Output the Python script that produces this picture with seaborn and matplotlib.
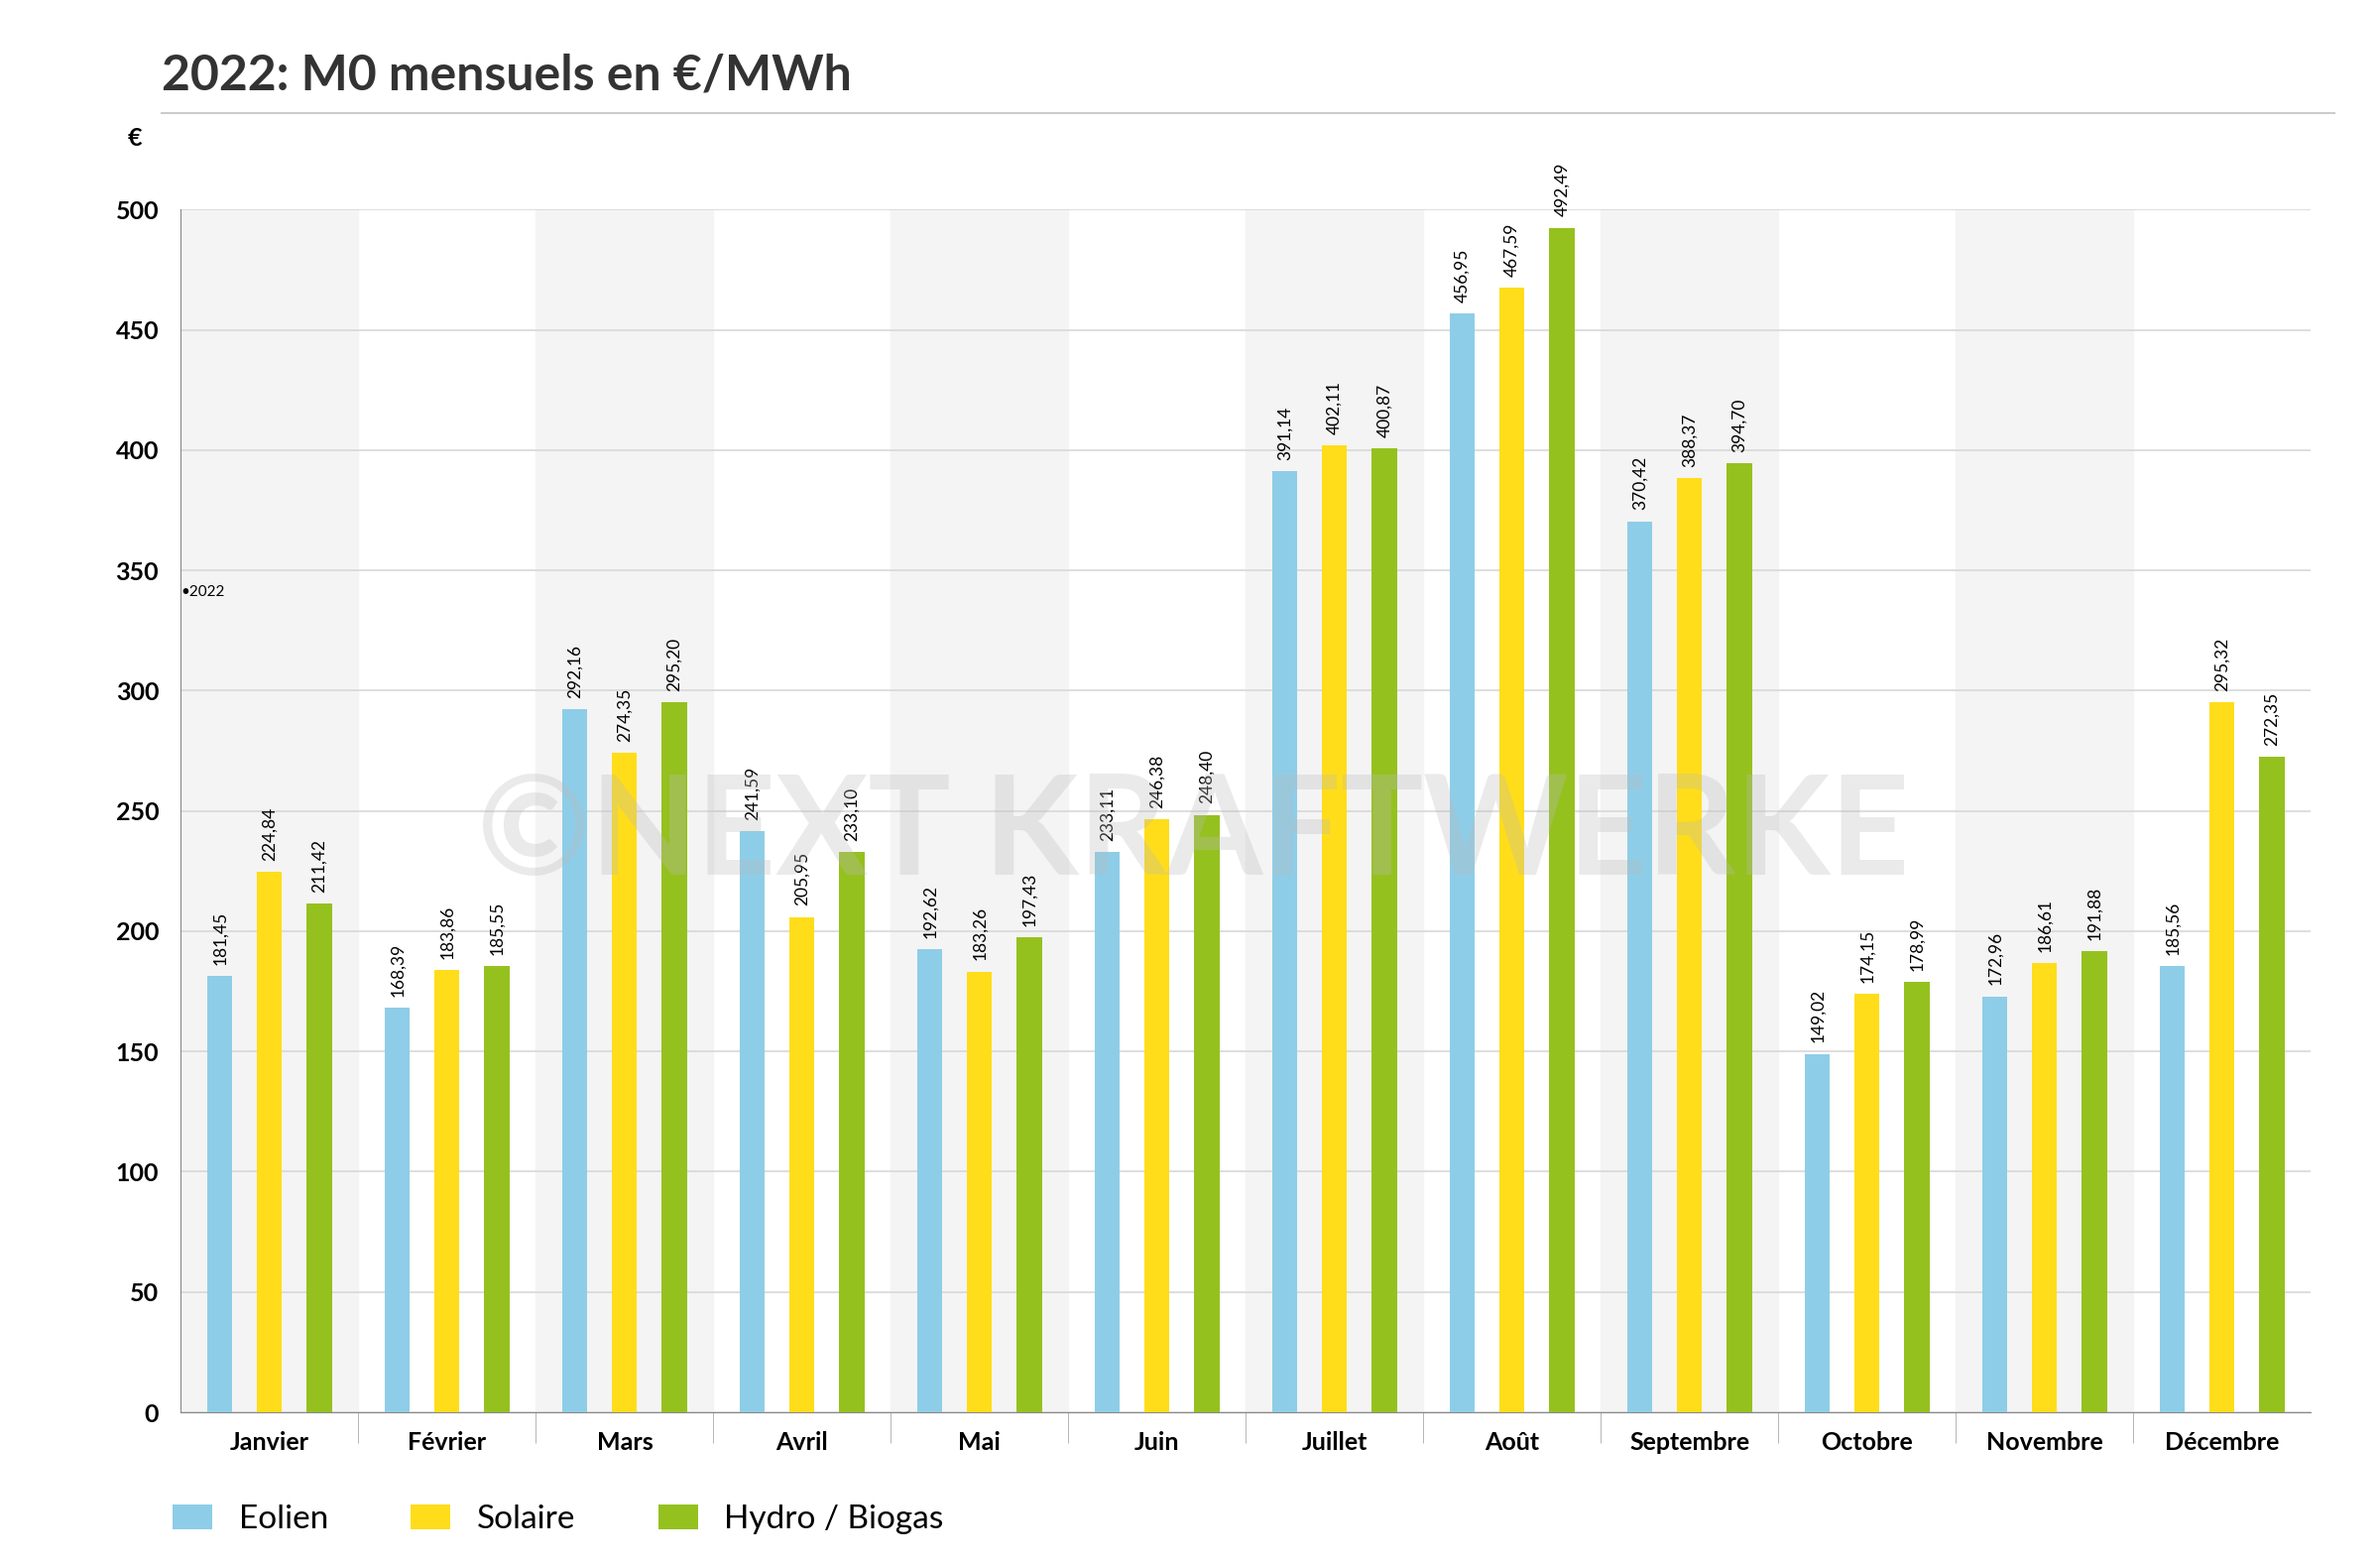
import matplotlib
matplotlib.use("Agg")
import matplotlib.pyplot as plt
import seaborn as sns
import pandas as pd
import numpy as np

months = ["Janvier","Février","Mars","Avril","Mai","Juin","Juillet","Août","Septembre","Octobre","Novembre","Décembre"]
eolien = [181.45,168.39,292.16,241.59,192.62,233.11,391.14,456.95,370.42,149.02,172.96,185.56]
solaire = [224.84,183.86,274.35,205.95,183.26,246.38,402.11,467.59,388.37,174.15,186.61,295.32]
hydro = [211.42,185.55,295.20,233.10,197.43,248.40,400.87,492.49,394.70,178.99,191.88,272.35]
series = ["Eolien","Solaire","Hydro / Biogas"]
colors = ["#8ECDE8","#FFDD1A","#95C11F"]

df = pd.DataFrame({
    "Mois": months*3,
    "Type": sum([[s]*12 for s in series], []),
    "Valeur": eolien+solaire+hydro,
})

plt.rcParams["font.family"] = "Lato"
fig = plt.figure(figsize=(24,15.77), dpi=100)
ax = fig.add_axes([0.076,0.097,0.895,0.769])

for i in range(0,12,2):
    ax.axvspan(i-0.5,i+0.5,color="#F4F4F4",zorder=0)

sns.barplot(data=df,x="Mois",y="Valeur",hue="Type",palette=colors,width=0.84,gap=0.5,ax=ax,zorder=3,legend=True,saturation=1)
for c in ax.containers:
    labs = [f"{v:.2f}".replace(".",",") for v in c.datavalues]
    ax.bar_label(c,labels=labs,rotation=90,padding=8,fontsize=12.5,clip_on=False)

ax.set_xlim(-0.5,11.5)
ax.set_ylim(0,500)
ax.set_yticks(range(0,501,50))
ax.yaxis.grid(True,color="#D8D8D8",lw=1.2,zorder=1)
ax.set_axisbelow(True)
for s in ["top","right"]:
    ax.spines[s].set_visible(False)
ax.spines["left"].set_color("#888888")
ax.spines["bottom"].set_color("#888888")
ax.tick_params(axis="y",length=0,labelsize=18,pad=16)
ax.tick_params(axis="x",length=0,labelsize=18,pad=14)
for t in ax.get_xticklabels()+ax.get_yticklabels():
    t.set_fontweight("bold")
ax.set_xticks(np.arange(0.5,11,1),minor=True)
ax.tick_params(axis="x",which="minor",length=22,color="#AAAAAA")
ax.set_xlabel("")
ax.set_ylabel("")

ax.text(-0.72,525,"€",fontsize=18,fontweight="bold",ha="right",va="bottom")
ax.text(-0.5,341,"•2022",fontsize=11,ha="left",va="center")
ax.text(5.2,240,"©NEXT KRAFTWERKE",fontsize=100,fontweight="bold",color="#BBBBBB",alpha=0.3,ha="center",va="center",zorder=4)

fig.text(0.068,0.952,"2022: M0 mensuels en €/MWh",fontsize=36,fontweight="bold",color="#333333",va="center")
fig.add_artist(plt.Line2D([0.068,0.981],[0.928,0.928],color="#CCCCCC",lw=1.5))

h,l = ax.get_legend_handles_labels()
ax.legend_.remove()
fig.legend(h,l,loc="lower left",bbox_to_anchor=(0.06,0.0),ncol=3,frameon=False,fontsize=24,
           handlelength=1.2,handleheight=0.8,columnspacing=2.5,handletextpad=0.8)

fig.savefig("out.png",dpi=100)
